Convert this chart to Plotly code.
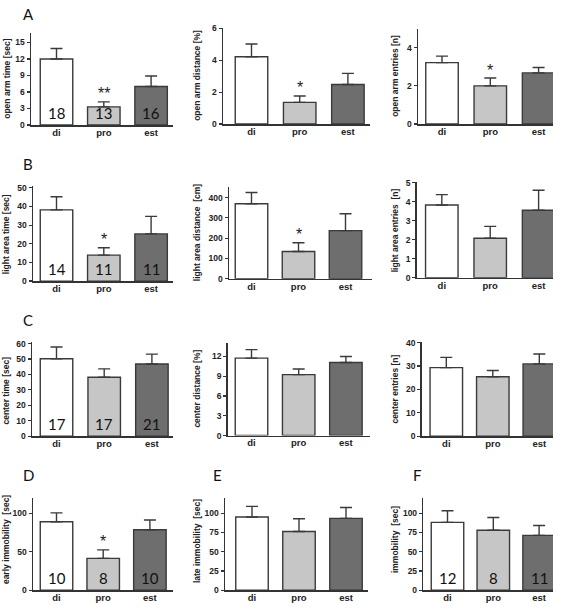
import plotly.graph_objects as go

W, H = 567, 610

categories = ["di", "pro", "est"]
bar_colors = ["#ffffff", "#c6c6c6", "#6e6e6e"]

# ---- data (means, SEM, group sizes, significance) ----
open_arm_time_mean = [12.0, 3.3, 7.0]
open_arm_time_sem = [1.9, 0.9, 1.9]
open_arm_distance_mean = [4.22, 1.36, 2.48]
open_arm_distance_sem = [0.8, 0.4, 0.7]
open_arm_entries_mean = [3.22, 2.0, 2.68]
open_arm_entries_sem = [0.34, 0.41, 0.28]

light_area_time_mean = [38.2, 13.9, 25.3]
light_area_time_sem = [7.0, 4.0, 9.4]
light_area_distance_mean = [369, 134, 237]
light_area_distance_sem = [56, 43, 83]
light_area_entries_mean = [3.82, 2.08, 3.55]
light_area_entries_sem = [0.55, 0.62, 1.05]

center_time_mean = [50.2, 38.2, 46.8]
center_time_sem = [7.6, 5.4, 6.4]
center_distance_mean = [11.75, 9.25, 11.1]
center_distance_sem = [1.3, 0.85, 0.9]
center_entries_mean = [29.3, 25.4, 30.9]
center_entries_sem = [4.4, 2.7, 4.2]

early_immobility_mean = [88.8, 41.3, 78.5]
early_immobility_sem = [11.5, 11.0, 12.5]
late_immobility_mean = [95.0, 76.2, 93.2]
late_immobility_sem = [13.8, 16.5, 14.2]
immobility_mean = [88.0, 77.8, 71.2]
immobility_sem = [15.0, 16.5, 12.8]

n_open_arm = ["18", "13", "16"]
n_light_area = ["14", "11", "11"]
n_center = ["17", "17", "21"]
n_early = ["10", "8", "10"]
n_immobility = ["12", "8", "11"]

sig_open_arm_time = ["", "**", ""]
sig_open_arm_distance = ["", "*", ""]
sig_open_arm_entries = ["", "*", ""]
sig_light_area_time = ["", "*", ""]
sig_light_area_distance = ["", "*", ""]
sig_early = ["", "*", ""]
no_sig = ["", "", ""]
no_n = ["", "", ""]

y_titles = [
    "open arm time [sec]", "open arm distance [%]", "open arm entries [n]",
    "light area time [sec]", "light area distance  [cm]", "light area entries  [n]",
    "center time [sec]", "center distance [%]", "center entries [n]",
    "early immobility  [sec]", "late immobility  [sec]", "immobility  [sec]",
]
panel_letters = ["A", "B", "C", "D", "E", "F"]

series = [
    (open_arm_time_mean, open_arm_time_sem, n_open_arm, sig_open_arm_time),
    (open_arm_distance_mean, open_arm_distance_sem, no_n, sig_open_arm_distance),
    (open_arm_entries_mean, open_arm_entries_sem, no_n, sig_open_arm_entries),
    (light_area_time_mean, light_area_time_sem, n_light_area, sig_light_area_time),
    (light_area_distance_mean, light_area_distance_sem, no_n, sig_light_area_distance),
    (light_area_entries_mean, light_area_entries_sem, no_n, no_sig),
    (center_time_mean, center_time_sem, n_center, no_sig),
    (center_distance_mean, center_distance_sem, no_n, no_sig),
    (center_entries_mean, center_entries_sem, no_n, no_sig),
    (early_immobility_mean, early_immobility_sem, n_early, sig_early),
    (late_immobility_mean, late_immobility_sem, no_n, no_sig),
    (immobility_mean, immobility_sem, n_immobility, no_sig),
]

# ---- layout (pixel geometry of each panel) ----
# x0: y-axis pixel, c0: first bar centre, sp: bar spacing, xr: x-axis end,
# zero/top: pixel rows of baseline/axis top, rtop: value at axis top, dtick
geom = [
    dict(x0=31, c0=56.5, sp=47.3, xr=173, zero=122, top=28, rtop=16.8, dtick=3, lx=7, ly=75),
    dict(x0=223, c0=251.5, sp=48.2, xr=370, zero=121, top=23, rtop=6.05, dtick=2, lx=197, ly=72),
    dict(x0=418, c0=442, sp=48.3, xr=553, zero=121, top=24, rtop=5.0, dtick=2, lx=395, ly=72),
    dict(x0=33, c0=56.5, sp=47.3, xr=173, zero=280.7, top=184, rtop=51, dtick=10, lx=6, ly=233),
    dict(x0=229, c0=251.5, sp=47, xr=372, zero=278.3, top=185, rtop=452, dtick=100, lx=197, ly=232),
    dict(x0=416.7, c0=441.8, sp=48.4, xr=553, zero=277.3, top=180, rtop=5.03, dtick=1, lx=395, ly=229),
    dict(x0=32, c0=56.5, sp=47.7, xr=173, zero=438.3, top=343, rtop=60.8, dtick=10, lx=6, ly=392),
    dict(x0=227.7, c0=251.5, sp=47.2, xr=370, zero=437.7, top=343.3, rtop=14.1, dtick=3, lx=197, ly=390),
    dict(x0=421.7, c0=446.3, sp=46.5, xr=553, zero=438.3, top=343, rtop=40.1, dtick=10, lx=395, ly=391),
    dict(x0=33, c0=56.5, sp=46.7, xr=173, zero=595, top=501.7, rtop=119, dtick=50, lx=6, ly=544),
    dict(x0=225, c0=252, sp=47, xr=368, zero=595, top=501.7, rtop=119, dtick=25, lx=197, ly=545),
    dict(x0=423.3, c0=447.5, sp=45.8, xr=553, zero=595, top=501.7, rtop=119, dtick=25, lx=395, ly=544),
]
letter_pos = [(28, 9), (28, 162), (28, 320), (28, 478), (217, 478), (417, 478)]

AX = "#333333"
EDGE = "#3a3a3a"
tick_font = dict(family="Liberation Sans", size=8.5, color="#222222", weight="bold")
xtick_font = dict(family="Liberation Sans", size=9.5, color="#222222", weight="bold")

fig = go.Figure()
annotations = []
layout = dict(
    width=W, height=H, margin=dict(l=0, r=0, t=0, b=0),
    paper_bgcolor="white", plot_bgcolor="white", showlegend=False,
)

for i, ((mean, sem, ns, sig), g) in enumerate(zip(series, geom)):
    k = i + 1
    xn = "x" if k == 1 else f"x{k}"
    yn = "y" if k == 1 else f"y{k}"
    xa = "xaxis" if k == 1 else f"xaxis{k}"
    ya = "yaxis" if k == 1 else f"yaxis{k}"
    fig.add_trace(go.Bar(
        x=categories, y=mean, xaxis=xn, yaxis=yn,
        width=32.5 / g["sp"],
        marker=dict(color=bar_colors, line=dict(color=EDGE, width=1.4)),
        error_y=dict(type="data", array=sem, arrayminus=[0, 0, 0], symmetric=False,
                     color=EDGE, thickness=1.4, width=6),
        hoverinfo="skip",
    ))
    layout[xa] = dict(
        domain=[g["x0"] / W, g["xr"] / W], anchor=yn, type="category",
        range=[(g["x0"] - g["c0"]) / g["sp"], (g["xr"] - g["c0"]) / g["sp"]],
        showline=True, linecolor=AX, linewidth=1.5, ticks="", showgrid=False,
        zeroline=False, tickfont=xtick_font, fixedrange=True, ticklabelstandoff=-2,
    )
    layout[ya] = dict(
        domain=[1 - g["zero"] / H, 1 - g["top"] / H], anchor=xn,
        range=[0, g["rtop"]], dtick=g["dtick"], tick0=0,
        showline=True, linecolor=AX, linewidth=1.5, ticks="outside", ticklen=3,
        tickwidth=1.2, tickcolor=AX, showgrid=False, zeroline=False,
        tickfont=tick_font, fixedrange=True,
    )
    annotations.append(dict(
        text=y_titles[i], textangle=-90, x=g["lx"] / W, y=1 - g["ly"] / H,
        xref="paper", yref="paper", showarrow=False, xanchor="center", yanchor="middle",
        font=dict(family="Liberation Sans", size=8.5, color="#222222", weight="bold"),
    ))
    for c, n, s, m, e in zip(categories, ns, sig, mean, sem):
        if n:
            annotations.append(dict(
                text=n, x=c, y=0, xref=xn, yref=yn, showarrow=False,
                xanchor="center", yanchor="bottom", yshift=1,
                font=dict(family="Lato", size=15, color="#111111"),
            ))
        if s:
            annotations.append(dict(
                text=s, x=c, y=m + e, xref=xn, yref=yn, showarrow=False,
                xanchor="center", yanchor="middle", yshift=8,
                font=dict(family="Liberation Sans", size=16, color="#222222"),
            ))

for letter, (px, py) in zip(panel_letters, letter_pos):
    annotations.append(dict(
        text=letter, x=px / W, y=1 - py / H, xref="paper", yref="paper",
        showarrow=False, xanchor="center", yanchor="middle",
        font=dict(family="Lato", size=15, color="#111111"),
    ))

layout["annotations"] = annotations
fig.update_layout(**layout)
fig.write_html(
    "out.html",
    config={"displayModeBar": False, "staticPlot": True},
    post_script="document.body.style.margin='0';document.body.style.padding='0';",
)
